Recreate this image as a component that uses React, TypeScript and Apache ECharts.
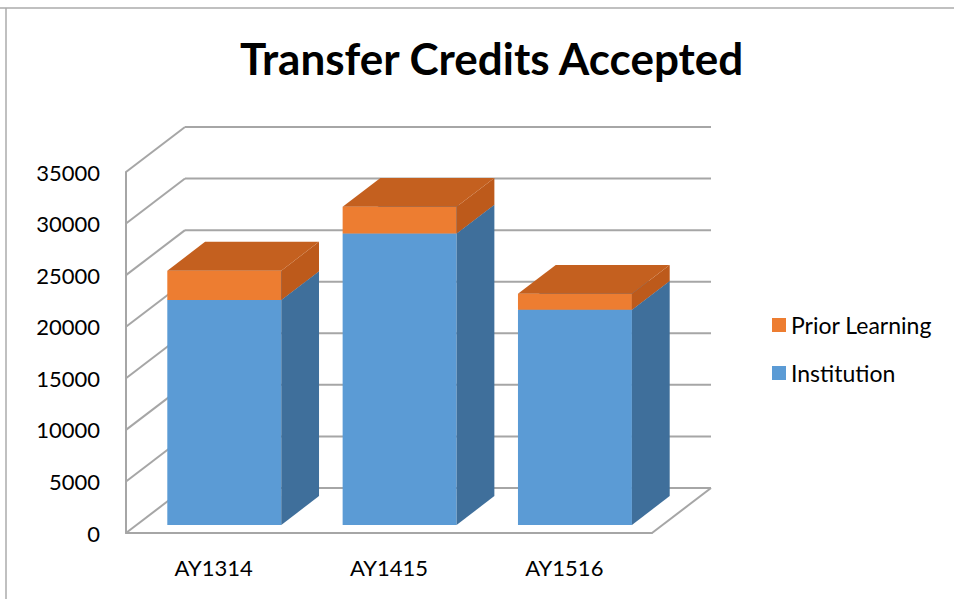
import React, { useEffect, useRef } from "react";
import * as echarts from "echarts";

const categories = ["AY1314", "AY1415", "AY1516"];
const institution = [21800, 28250, 20850];
const priorLearning = [2850, 2600, 1550];
const yTicks = [0, 5000, 10000, 15000, 20000, 25000, 30000, 35000];

// 3D depth vector (px) from front plane to back wall
const DX = 59;
const DY = -45;
const F0 = 0.18; // bar front depth fraction
const F1 = 0.82; // bar back depth fraction
const GRID_COLOR = "#a6a6a6";
const FONT = "Lato";

const makeBox = (front: string, side: string, top: string) => (params: any, api: any) => {
  const idx = api.value(0);
  const lo = api.value(1);
  const hi = api.value(2);
  const cTop = api.coord([idx, hi]);
  const cBot = api.coord([idx, lo]);
  const bw = api.size([1, 0])[0] * 0.65;
  const xl = cTop[0] - bw / 2 + F0 * DX;
  const xr = xl + bw;
  const yT = cTop[1] + F0 * DY;
  const yB = cBot[1] + F0 * DY;
  const dd = F1 - F0;
  const ox = dd * DX;
  const oy = dd * DY;
  return {
    type: "group",
    children: [
      {
        type: "polygon",
        shape: { points: [[xl, yB], [xr, yB], [xr, yT], [xl, yT]] },
        style: { fill: front },
      },
      {
        type: "polygon",
        shape: { points: [[xr, yB], [xr, yT], [xr + ox, yT + oy], [xr + ox, yB + oy]] },
        style: { fill: side },
      },
      {
        type: "polygon",
        shape: { points: [[xl, yT], [xr, yT], [xr + ox, yT + oy], [xl + ox, yT + oy]] },
        style: { fill: top },
      },
    ],
  };
};

export default function App() {
  const ref = useRef<HTMLDivElement>(null);
  useEffect(() => {
    document.body.style.margin = "0";
    const chart = echarts.init(ref.current!, null, { renderer: "svg" });
    const instData = categories.map((_, i) => [i, 0, institution[i]]);
    const priorData = categories.map((_, i) => [i, institution[i], institution[i] + priorLearning[i]]);
    chart.setOption({
      animation: false,
      backgroundColor: "#ffffff",
      title: {
        text: "Transfer Credits Accepted",
        left: 235,
        top: 31,
        textStyle: { fontFamily: FONT, fontWeight: "bold", fontSize: 44, color: "#000" },
      },
      legend: {
        data: ["Prior Learning", "Institution"],
        orient: "vertical",
        left: 767,
        top: 308,
        icon: "rect",
        itemWidth: 14,
        itemHeight: 14,
        itemGap: 24,
        textStyle: { fontFamily: FONT, fontSize: 23, color: "#000", lineHeight: 24 },
      },
      grid: { left: 126, right: 302, top: 172, bottom: 66 },
      xAxis: {
        type: "category",
        data: categories,
        axisLine: { show: true, lineStyle: { color: GRID_COLOR, width: 2 } },
        axisTick: { show: false },
        axisLabel: { fontFamily: FONT, fontSize: 22, color: "#000", margin: 23 },
      },
      yAxis: {
        type: "value",
        min: 0,
        max: 35000,
        interval: 5000,
        axisLine: { show: true, lineStyle: { color: GRID_COLOR, width: 2 } },
        axisTick: { show: false },
        splitLine: { show: false },
        axisLabel: {
          fontFamily: FONT,
          fontSize: 22,
          color: "#000",
          margin: 26,
          formatter: (v: number) => String(v),
        },
      },
      series: [
        {
          type: "custom",
          name: "walls",
          z: 1,
          silent: true,
          data: yTicks.map((v) => [0, v]),
          encode: { x: 0, y: 1 },
          renderItem: (params: any, api: any) => {
            const cs = params.coordSys;
            const v = api.value(1);
            const y = api.coord([0, v])[1];
            const x0 = cs.x;
            const x1 = cs.x + cs.width;
            const ls = { stroke: GRID_COLOR, lineWidth: 2 };
            const children: any[] = [
              { type: "line", shape: { x1: x0, y1: y, x2: x0 + DX, y2: y + DY }, style: ls },
              { type: "line", shape: { x1: x0 + DX, y1: y + DY, x2: x1 + DX, y2: y + DY }, style: ls },
            ];
            if (v === 0) {
              children.push({ type: "line", shape: { x1: x1, y1: y, x2: x1 + DX, y2: y + DY }, style: ls });
            }
            return { type: "group", children };
          },
        },
        {
          type: "custom",
          name: "Institution",
          z: 2,
          itemStyle: { color: "#5b9bd5" },
          data: instData,
          encode: { x: 0, y: [1, 2] },
          renderItem: makeBox("#5b9bd5", "#3f6f9b", "#4a86c0"),
        },
        {
          type: "custom",
          name: "Prior Learning",
          z: 3,
          itemStyle: { color: "#ed7d31" },
          data: priorData,
          encode: { x: 0, y: [1, 2] },
          renderItem: makeBox("#ed7d31", "#bd5a1b", "#c4601f"),
        },
      ],
      graphic: [
        { type: "line", shape: { x1: 0, y1: 8, x2: 954, y2: 8 }, style: { stroke: "#ababab", lineWidth: 1.5 } },
        { type: "line", shape: { x1: 6, y1: 8, x2: 6, y2: 599 }, style: { stroke: "#ababab", lineWidth: 1.5 } },
      ],
    });
    return () => chart.dispose();
  }, []);
  return <div ref={ref} style={{ position: "fixed", left: 0, top: 0, width: 954, height: 599 }} />;
}
